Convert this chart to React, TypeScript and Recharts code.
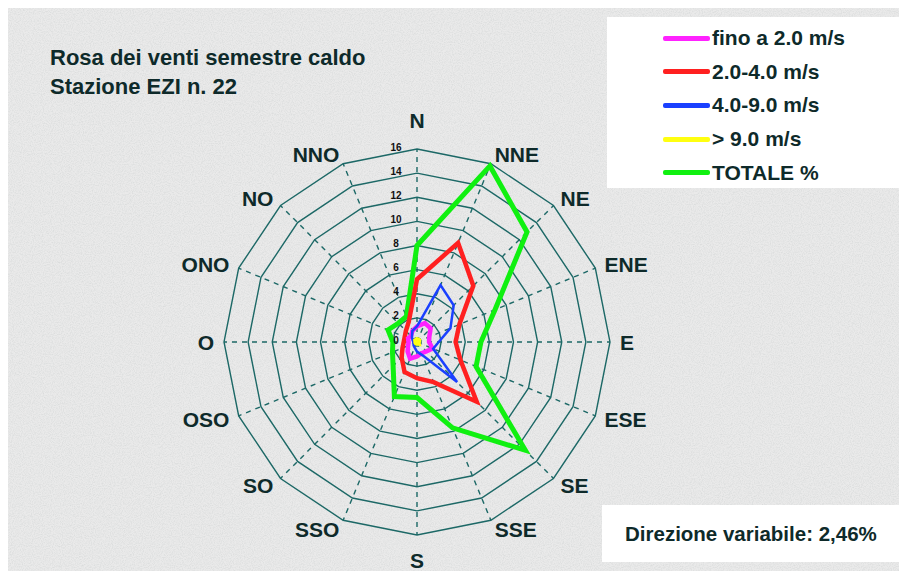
import React from "react";
import {
  RadarChart,
  Radar,
  PolarGrid,
  PolarAngleAxis,
  PolarRadiusAxis,
} from "recharts";

// direzioni di provenienza (senso orario da N)
const directions = ["N", "NNE", "NE", "ENE", "E", "ESE", "SE", "SSE", "S", "SSO", "SO", "OSO", "O", "ONO", "NO", "NNO"];

// frequenze %
const fino2 = [1.3, 1.7, 1.6, 1.1, 1.0, 1.4, 1.1, 1.0, 1.2, 1.5, 1.1, 0.8, 0.7, 0.8, 0.7, 1.0];
const da2a4 = [5.2, 8.9, 6.6, 3.8, 3.2, 3.9, 7.0, 3.6, 3.0, 2.7, 1.8, 1.3, 1.1, 1.1, 1.3, 1.8];
const da4a9 = [1.3, 5.1, 4.3, 3.0, 1.8, 1.45, 4.7, 1.2, 0.8, 0.5, 0.4, 0.3, 0.3, 0.4, 0.6, 1.0];
const oltre9 = [0.2, 0.2, 0.2, 0.15, 0.1, 0.1, 0.15, 0.1, 0.1, 0.1, 0.1, 0.1, 0.1, 0.1, 0.15, 0.15];
const totale = [8.0, 15.8, 12.9, 7.0, 5.3, 5.3, 12.7, 7.7, 4.6, 4.9, 2.8, 2.2, 2.0, 2.6, 2.2, 2.3];

const radiusTicks = [0, 2, 4, 6, 8, 10, 12, 14, 16];

const legendItems = [
  { label: "fino a 2.0 m/s", color: "#ff22ff" },
  { label: "2.0-4.0 m/s", color: "#ff2020" },
  { label: "4.0-9.0 m/s", color: "#1a40ff" },
  { label: "> 9.0 m/s", color: "#ffff10" },
  { label: "TOTALE %", color: "#10f010" },
];

const data = directions.map((dir, i) => ({
  dir,
  fino2: fino2[i],
  da2a4: da2a4[i],
  da4a9: da4a9[i],
  oltre9: oltre9[i],
  totale: totale[i],
}));

const W = 891;
const H = 563;
const CX = 409;
const CY = 334;
const R = 193;
const INK = "#0e2a2a";
const GRID = "#1c6866";
const FONT = "'Liberation Sans', Arial, sans-serif";

function AngleTick(props: any) {
  const { payload } = props;
  const idx = directions.indexOf(payload.value);
  const a = (idx * 22.5 * Math.PI) / 180;
  const s = Math.sin(a);
  const c = Math.cos(a);
  const x = CX + (R + 10) * s;
  let y = CY - (R + 10) * c;
  const anchor = Math.abs(s) < 0.01 ? "middle" : s > 0 ? "start" : "end";
  if (anchor === "middle") y += c > 0 ? -19 : 15;
  return (
    <text x={x} y={y} textAnchor={anchor} dominantBaseline="central" fontFamily={FONT} fontWeight="bold" fontSize={21} fill={INK}>
      {payload.value}
    </text>
  );
}

function RadiusTick(props: any) {
  const { x, y, payload } = props;
  return (
    <text x={x - 21} y={y - 2} textAnchor="middle" dominantBaseline="central" fontFamily={FONT} fontWeight="bold" fontSize={10} fill="#111">
      {payload.value}
    </text>
  );
}

export default function App() {
  return (
    <div style={{ position: "relative", width: W, height: H, fontFamily: FONT, color: INK }}>
      <svg width={W} height={H} style={{ position: "absolute", left: 0, top: 0 }}>
        <filter id="speckle">
          <feTurbulence type="fractalNoise" baseFrequency="0.9" numOctaves={2} stitchTiles="stitch" />
          <feColorMatrix type="matrix" values="0 0 0 0 0.55  0 0 0 0 0.58  0 0 0 0 0.58  1.6 0 0 0 -0.6" />
        </filter>
        <rect width={W} height={H} fill="#eaeaea" />
        <rect width={W} height={H} filter="url(#speckle)" opacity={0.5} />
      </svg>

      <div style={{ position: "absolute", left: 0, top: 0 }}>
        <RadarChart width={W} height={H} data={data} cx={CX} cy={CY} outerRadius={R} margin={{ top: 0, right: 0, bottom: 0, left: 0 }} style={{ overflow: "visible" }}>
          <PolarGrid gridType="polygon" radialLines={false} polarRadius={radiusTicks.slice(1).map((v) => (v / 16) * R)} stroke={GRID} strokeWidth={1.4} />
          <PolarGrid gridType="polygon" polarRadius={[0]} stroke={GRID} strokeWidth={1.4} strokeDasharray="5 5" />
          <PolarAngleAxis dataKey="dir" tick={<AngleTick />} tickLine={false} axisLine={false} />
          <PolarRadiusAxis angle={90} domain={[0, 16]} ticks={radiusTicks} tick={<RadiusTick />} axisLine={false} tickLine={false} />
          <Radar dataKey="totale" stroke="#10f010" strokeWidth={5} fill="none" dot={false} isAnimationActive={false} />
          <Radar dataKey="da2a4" stroke="#ff2020" strokeWidth={4.5} fill="none" dot={false} isAnimationActive={false} />
          <Radar dataKey="fino2" stroke="#ff22ff" strokeWidth={4.5} fill="none" dot={false} isAnimationActive={false} />
          <Radar dataKey="da4a9" stroke="#1a40ff" strokeWidth={2.5} fill="none" dot={false} isAnimationActive={false} />
          <Radar dataKey="oltre9" stroke="#ffff10" strokeWidth={5} fill="none" dot={false} isAnimationActive={false} />
        </RadarChart>
      </div>

      <div style={{ position: "absolute", left: 42, top: 35, fontWeight: "bold", fontSize: 22, lineHeight: "29px" }}>
        <div>Rosa dei venti semestre caldo</div>
        <div>Stazione EZI n. 22</div>
      </div>

      <div style={{ position: "absolute", left: 599, top: 9, width: 292, height: 171, background: "#fff" }}>
        {legendItems.map((it, i) => (
          <div key={it.label} style={{ position: "absolute", left: 56, top: 21 + i * 33.7 - 12, height: 24, display: "flex", alignItems: "center" }}>
            <div style={{ width: 47, height: 5, background: it.color, borderRadius: 2 }} />
            <span style={{ marginLeft: 2, fontWeight: "bold", fontSize: 21, whiteSpace: "nowrap" }}>{it.label}</span>
          </div>
        ))}
      </div>

      <div style={{ position: "absolute", left: 594, top: 497, width: 297, height: 57, background: "#fff", display: "flex", alignItems: "center" }}>
        <span style={{ marginLeft: 23, fontWeight: "bold", fontSize: 20.5, whiteSpace: "nowrap" }}>Direzione variabile: 2,46%</span>
      </div>
    </div>
  );
}
